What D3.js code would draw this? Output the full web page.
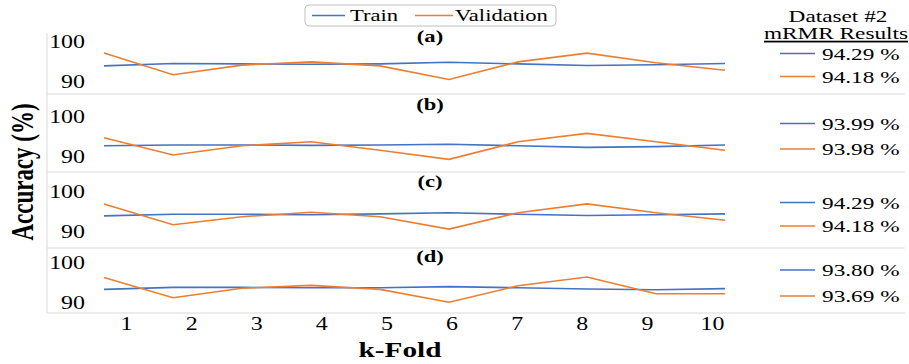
<!DOCTYPE html>
<html>
<head>
<meta charset="utf-8">
<script src="https://cdn.jsdelivr.net/npm/d3@7"></script>
<style>
  body { margin: 0; background: #fff; }
</style>
</head>
<body>
<div id="chart"></div>
<script>
const folds = [1, 2, 3, 4, 5, 6, 7, 8, 9, 10];
const panelLabels = ["(a)", "(b)", "(c)", "(d)"];
const trainA = [93.9, 94.5, 94.4, 94.3, 94.4, 94.8, 94.4, 94.0, 94.2, 94.5];
const validA = [97.1, 91.7, 94.1, 94.9, 93.9, 90.5, 94.9, 97.1, 94.7, 92.8];
const trainB = [92.8, 93.0, 93.0, 92.9, 93.0, 93.2, 92.8, 92.4, 92.6, 93.0];
const validB = [94.8, 90.5, 92.8, 93.8, 91.7, 89.4, 93.8, 95.9, 93.8, 91.7];
const trainC = [93.9, 94.3, 94.3, 94.2, 94.4, 94.7, 94.3, 94.0, 94.2, 94.4];
const validC = [96.9, 91.7, 93.7, 94.8, 93.7, 90.6, 94.7, 96.9, 94.7, 92.8];
const trainD = [93.4, 93.9, 93.9, 93.8, 93.8, 94.1, 93.8, 93.5, 93.3, 93.6];
const validD = [96.4, 91.3, 93.7, 94.4, 93.4, 90.2, 94.3, 96.5, 92.3, 92.3];
const trainResults = ["94.29 %", "93.99 %", "94.29 %", "93.80 %"];
const validResults = ["94.18 %", "93.98 %", "94.18 %", "93.69 %"];
const yTicks = [90, 100];

const trainColor = "#4472C4";
const validColor = "#ED7D31";
const gridColor = "#d9d9d9";
const FONT = "Liberation Serif";
const SX = 1.33; // the reference text is stretched sideways

const W = 909, H = 364;
const panelTops = [21.5, 97, 171.5, 243];
const separators = [94, 172, 248, 313];
const labelY = [41.5, 109.5, 187, 262];
const resY1 = [53.5, 123.5, 202.5, 270];
const resY2 = [76.5, 149, 226, 296];

const svg = d3.select("#chart").append("svg")
  .attr("width", W)
  .attr("height", H)
  .attr("font-family", FONT);

// text drawn at (x, y) and stretched sideways around that anchor
function stretchedText(sel, x, y, str, size, anchor, bold) {
  return sel.append("text")
    .attr("transform", `translate(${x},${y}) scale(${SX},1)`)
    .attr("text-anchor", anchor || "start")
    .attr("font-family", FONT)
    .attr("font-size", size)
    .attr("font-weight", bold ? "bold" : "normal")
    .attr("fill", "#000")
    .text(str);
}

// x scales: points for the lines, a slightly narrower one for the labels (as in the picture)
const x = d3.scalePoint().domain(folds).range([104, 725]);
const xLab = d3.scalePoint().domain(folds).range([126, 712]);

// frame lines
svg.append("line")
  .attr("x1", 47).attr("x2", 47)
  .attr("y1", 33).attr("y2", 313)
  .attr("stroke", gridColor);
separators.forEach(s => {
  svg.append("line")
    .attr("x1", 47).attr("x2", 905)
    .attr("y1", s).attr("y2", s)
    .attr("stroke", gridColor);
});

const panels = [
  { train: trainA, valid: validA },
  { train: trainB, valid: validB },
  { train: trainC, valid: validC },
  { train: trainD, valid: validD }
];

panels.forEach((p, i) => {
  const top = panelTops[i];
  const y = d3.scaleLinear().domain([90, 100]).range([top + 60, top + 20]);

  const yAxis = d3.axisLeft(y).tickValues(yTicks).tickSize(0).tickPadding(0);
  const ga = svg.append("g")
    .attr("transform", "translate(85,0)")
    .attr("font-family", FONT)
    .call(yAxis);
  ga.attr("font-family", FONT);
  ga.select(".domain").remove();
  ga.selectAll("text")
    .attr("x", 0)
    .attr("font-size", 18)
    .attr("fill", "#000")
    .attr("transform", `scale(${SX},1)`);

  const line = d3.line()
    .x((d, j) => x(folds[j]))
    .y(d => y(d));

  svg.append("path")
    .datum(p.train)
    .attr("fill", "none")
    .attr("stroke", trainColor)
    .attr("stroke-width", 1.6)
    .attr("d", line);

  svg.append("path")
    .datum(p.valid)
    .attr("fill", "none")
    .attr("stroke", validColor)
    .attr("stroke-width", 1.6)
    .attr("d", line);

  // panel label
  stretchedText(svg, 430, labelY[i], panelLabels[i], 17, "middle", true);

  // right-hand result legend
  [[resY1[i], trainColor, trainResults[i]], [resY2[i], validColor, validResults[i]]].forEach(([ly, c, t]) => {
    svg.append("line")
      .attr("x1", 780).attr("x2", 815)
      .attr("y1", ly).attr("y2", ly)
      .attr("stroke", c).attr("stroke-width", 1.6);
    stretchedText(svg, 822, ly + 6, t, 17.5);
  });
});

// x axis labels
const xAxis = d3.axisBottom(xLab).tickSize(0).tickPadding(0);
const gx = svg.append("g")
  .attr("transform", "translate(0,330)")
  .call(xAxis);
gx.attr("font-family", FONT);
gx.select(".domain").remove();
gx.selectAll("text")
  .attr("y", 0)
  .attr("dy", 0)
  .attr("font-size", 18)
  .attr("fill", "#000")
  .attr("transform", `scale(${SX},1)`);

// axis titles
stretchedText(svg, 400, 357, "k-Fold", 22, "middle", true);

svg.append("text")
  .attr("transform", `translate(33,172) scale(${SX},1) rotate(-90)`)
  .attr("text-anchor", "middle")
  .attr("font-family", FONT)
  .attr("font-weight", "bold")
  .attr("font-size", 23)
  .text("Accuracy (%)");

// top legend
const lg = svg.append("g").attr("transform", "translate(305,5)");
lg.append("rect")
  .attr("width", 251).attr("height", 21)
  .attr("rx", 4)
  .attr("fill", "#fff")
  .attr("stroke", "#bfbfbf");
lg.append("line").attr("x1", 7).attr("x2", 40).attr("y1", 10.5).attr("y2", 10.5)
  .attr("stroke", trainColor).attr("stroke-width", 1.6);
stretchedText(lg, 45, 16, "Train", 17);
lg.append("line").attr("x1", 110).attr("x2", 148).attr("y1", 10.5).attr("y2", 10.5)
  .attr("stroke", validColor).attr("stroke-width", 1.6);
stretchedText(lg, 150, 16, "Validation", 17);

// right title
stretchedText(svg, 838, 22, "Dataset #2", 17.5, "middle");
stretchedText(svg, 836, 39, "mRMR Results", 17.5, "middle")
  .attr("text-decoration", "underline");
</script>
</body>
</html>
